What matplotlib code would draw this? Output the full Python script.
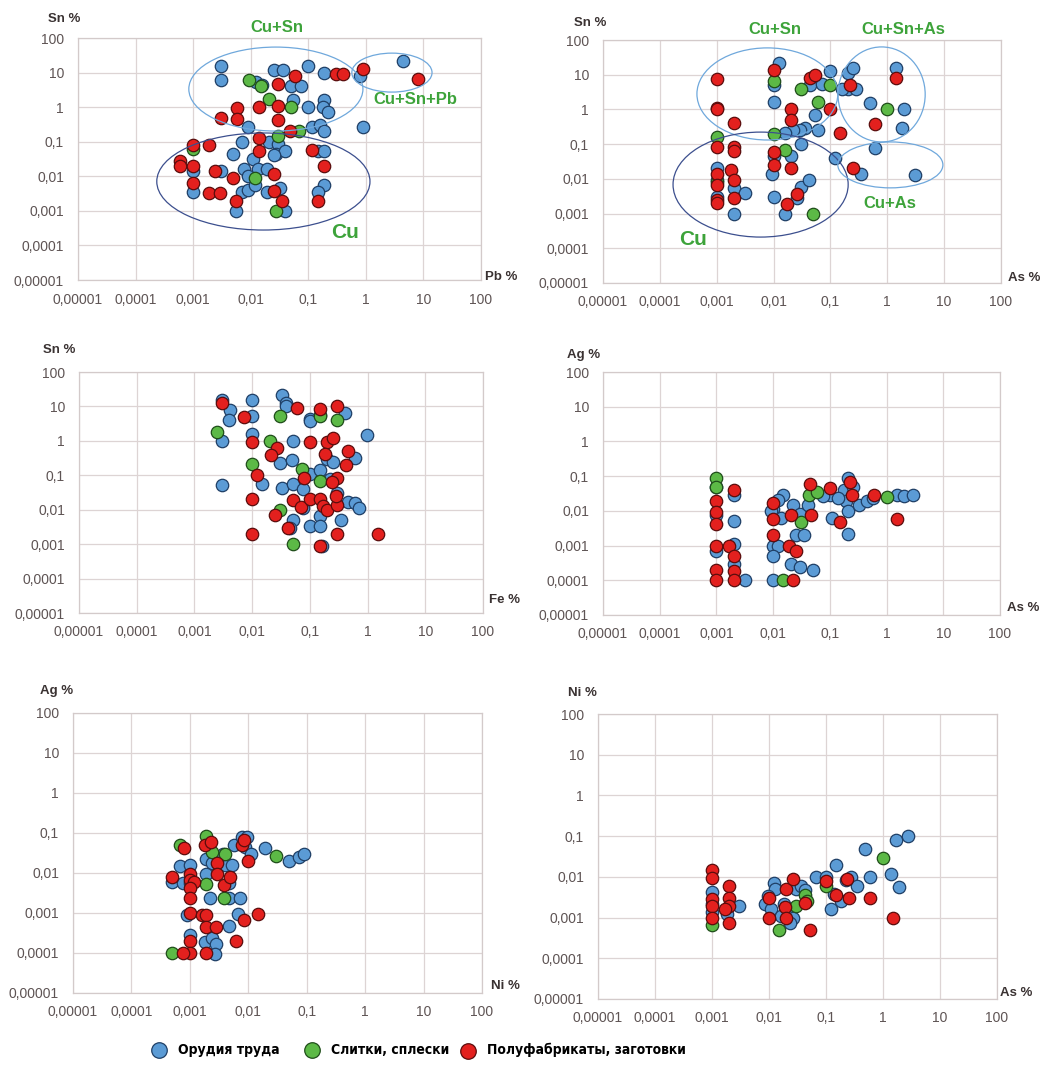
import matplotlib
matplotlib.use("Agg")
import matplotlib.pyplot as plt
from matplotlib import font_manager
from matplotlib.patches import Ellipse
from matplotlib.ticker import FixedLocator, NullLocator

plt.rcParams['font.family'] = ['Liberation Sans', 'DejaVu Sans']

# ---------------- data ----------------
TICKS = [1e-5, 1e-4, 1e-3, 1e-2, 1e-1, 1, 10, 100]
TICK_LABELS = ['0,00001', '0,0001', '0,001', '0,01', '0,1', '1', '10', '100']
GROUPS = ['Орудия труда', 'Слитки, сплески', 'Полуфабрикаты, заготовки']

# Panel 1: Pb % (x) vs Sn % (y)
TOOLS_PB_SN = [(0.003, 16), (0.003, 6), (0.025, 12), (0.037, 12), (0.1, 16), (0.19, 10), (0.8, 8), (4.5, 21),
               (0.0125, 5.3), (0.016, 4.5), (0.051, 4.2), (0.075, 4.2), (0.055, 1.6), (0.1, 1.0), (0.19, 1.6),
               (0.18, 1.0), (0.22, 0.72), (0.009, 0.26), (0.115, 0.26), (0.16, 0.3), (0.19, 0.21), (0.9, 0.26),
               (0.007, 0.1), (0.021, 0.1), (0.03, 0.085), (0.028, 0.045), (0.039, 0.055), (0.005, 0.043),
               (0.011, 0.031), (0.15, 0.055), (0.19, 0.055), (0.0075, 0.016), (0.0135, 0.016), (0.019, 0.016),
               (0.009, 0.01), (0.001, 0.014), (0.0031, 0.014), (0.001, 0.0034), (0.007, 0.0034), (0.009, 0.004),
               (0.012, 0.0055), (0.019, 0.0034), (0.032, 0.0047), (0.0056, 0.001), (0.039, 0.001), (0.19, 0.0057),
               (0.15, 0.0034), (0.025, 0.04)]
INGOTS_PB_SN = [(0.0095, 6), (0.015, 4.2), (0.021, 1.7), (0.051, 1.0), (0.07, 0.2), (0.03, 0.15), (0.012, 0.009),
                (0.028, 0.001), (0.001, 0.06)]
BLANKS_PB_SN = [(0.058, 8), (0.03, 4.7), (0.3, 9), (0.4, 9), (0.9, 13), (8, 6.5), (0.0058, 0.95), (0.014, 1.0),
                (0.03, 1.1), (0.003, 0.5), (0.0058, 0.45), (0.03, 0.42), (0.048, 0.21), (0.014, 0.13), (0.001, 0.08),
                (0.0019, 0.08), (0.014, 0.055), (0.115, 0.057), (0.0006, 0.028), (0.0006, 0.02), (0.001, 0.02),
                (0.0024, 0.014), (0.005, 0.009), (0.025, 0.012), (0.001, 0.0065), (0.0019, 0.0033), (0.0029, 0.0033),
                (0.025, 0.0038), (0.0056, 0.0019), (0.035, 0.0019), (0.15, 0.0019), (0.19, 0.02)]

# Panel 2: As % (x) vs Sn % (y)
TOOLS_AS_SN = [(0.0125, 22), (0.01, 4.9), (0.01, 1.6), (0.044, 5), (0.07, 5.5), (0.1, 12.5), (0.2, 11), (0.25, 16),
               (0.2, 3.9), (0.28, 3.9), (0.16, 3.9), (1.45, 16), (0.5, 1.5), (2.0, 1.0), (1.8, 0.29), (0.6, 0.08),
               (3.1, 0.013), (0.35, 0.014), (0.12, 0.04), (0.054, 0.71), (0.06, 0.26), (0.035, 0.29), (0.029, 0.26),
               (0.022, 0.26), (0.016, 0.21), (0.03, 0.1), (0.01, 0.046), (0.02, 0.047), (0.0094, 0.014), (0.03, 0.006),
               (0.042, 0.0095), (0.026, 0.0028), (0.01, 0.003), (0.016, 0.001), (0.001, 0.02), (0.001, 0.0095),
               (0.002, 0.0055), (0.0031, 0.004), (0.002, 0.001), (0.001, 0.0031)]
INGOTS_AS_SN = [(0.01, 6.5), (0.03, 3.9), (0.06, 1.6), (0.1, 4.9), (1.0, 1.0), (0.01, 0.19), (0.016, 0.07),
                (0.001, 0.16), (0.001, 0.008), (0.05, 0.001)]
BLANKS_AS_SN = [(0.001, 7.3), (0.001, 1.1), (0.001, 1.0), (0.002, 0.41), (0.01, 13.5), (0.044, 8.2), (0.054, 10),
                (0.22, 4.9), (1.45, 8), (0.02, 1.0), (0.02, 0.5), (0.1, 1.0), (0.15, 0.21), (0.6, 0.38), (0.001, 0.085),
                (0.002, 0.085), (0.002, 0.062), (0.01, 0.058), (0.01, 0.025), (0.02, 0.02), (0.25, 0.02), (0.001, 0.014),
                (0.0018, 0.018), (0.002, 0.0095), (0.001, 0.0068), (0.001, 0.0025), (0.001, 0.002), (0.002, 0.0028),
                (0.026, 0.0037), (0.017, 0.0019)]

# Panel 3: Fe % (x) vs Sn % (y)
TOOLS_FE_SN = [(0.003, 15), (0.0041, 7.8), (0.0039, 4), (0.01, 15.5), (0.01, 5.1), (0.01, 1.6), (0.003, 1.0),
               (0.003, 0.051), (0.033, 22), (0.038, 13), (0.039, 10), (0.1, 4.2), (0.1, 3.8), (0.15, 5.5), (0.4, 6.5),
               (0.98, 1.5), (0.051, 1.0), (0.03, 0.22), (0.05, 0.27), (0.015, 0.055), (0.033, 0.044), (0.051, 0.054),
               (0.075, 0.04), (0.1, 0.11), (0.15, 0.14), (0.2, 0.3), (0.25, 0.25), (0.6, 0.32), (0.22, 0.08),
               (0.3, 0.03), (0.45, 0.017), (0.6, 0.016), (0.7, 0.011), (0.075, 0.011), (0.15, 0.0066),
               (0.052, 0.0051), (0.1, 0.0034), (0.15, 0.0034), (0.35, 0.0051), (0.046, 0.003), (0.16, 0.0009)]
INGOTS_FE_SN = [(0.0025, 1.8), (0.03, 5.1), (0.3, 4), (0.02, 0.97), (0.01, 0.21), (0.072, 0.15), (0.15, 0.07),
                (0.03, 0.0097), (0.051, 0.001), (0.15, 5.1)]
BLANKS_FE_SN = [(0.003, 13), (0.0071, 5), (0.01, 0.95), (0.012, 0.1), (0.01, 0.02), (0.01, 0.002), (0.06, 9),
                (0.15, 8.5), (0.3, 10), (0.1, 0.95), (0.2, 0.95), (0.25, 1.2), (0.027, 0.6), (0.021, 0.4),
                (0.18, 0.42), (0.45, 0.5), (0.42, 0.2), (0.08, 0.085), (0.3, 0.085), (0.24, 0.063), (0.052, 0.019),
                (0.07, 0.012), (0.1, 0.02), (0.15, 0.02), (0.17, 0.013), (0.2, 0.0095), (0.3, 0.014), (0.28, 0.025),
                (0.025, 0.007), (0.042, 0.0029), (0.3, 0.002), (1.5, 0.002), (0.15, 0.0009)]

# Panel 4: As % (x) vs Ag % (y)
TOOLS_AS_AG = [(0.001, 0.05), (0.002, 0.028), (0.002, 0.005), (0.001, 0.0075), (0.002, 0.0011), (0.001, 0.0007),
               (0.002, 0.0003), (0.0032, 0.0001), (0.01, 0.011), (0.009, 0.01), (0.015, 0.028), (0.012, 0.02),
               (0.014, 0.0063), (0.022, 0.015), (0.03, 0.008), (0.025, 0.002), (0.035, 0.002), (0.01, 0.001),
               (0.012, 0.001), (0.01, 0.0005), (0.021, 0.0003), (0.03, 0.00024), (0.05, 0.0002), (0.01, 0.0001),
               (0.042, 0.015), (0.1, 0.028), (0.11, 0.0063), (0.21, 0.09), (0.18, 0.04), (0.19, 0.019), (0.21, 0.01),
               (0.21, 0.0021), (0.33, 0.015), (0.46, 0.019), (0.58, 0.024), (1.5, 0.028), (2.0, 0.026), (2.9, 0.028),
               (0.075, 0.026), (0.14, 0.023), (0.26, 0.05)]
INGOTS_AS_AG = [(0.001, 0.09), (0.001, 0.05), (0.015, 0.0001), (0.031, 0.0047), (0.043, 0.028), (0.06, 0.035),
                (1.0, 0.025)]
BLANKS_AS_AG = [(0.001, 0.019), (0.001, 0.009), (0.001, 0.0041), (0.002, 0.04), (0.001, 0.001), (0.0017, 0.001),
                (0.002, 0.0005), (0.001, 0.0002), (0.002, 0.00019), (0.001, 0.0001), (0.002, 0.0001), (0.01, 0.017),
                (0.01, 0.0058), (0.01, 0.002), (0.021, 0.0075), (0.019, 0.00095), (0.025, 0.0007), (0.022, 0.0001),
                (0.044, 0.058), (0.046, 0.0075), (0.1, 0.046), (0.15, 0.0047), (0.23, 0.07), (0.25, 0.028),
                (0.6, 0.028), (1.5, 0.0059)]

# Panel 5: Ni % (x) vs Ag % (y)
TOOLS_NI_AG = [(0.00067, 0.015), (0.001, 0.016), (0.0005, 0.006), (0.00077, 0.0055), (0.001, 0.0055),
               (0.0009, 0.00087), (0.001, 0.00028), (0.0019, 0.023), (0.0024, 0.018), (0.0019, 0.0097),
               (0.0022, 0.0024), (0.0018, 0.00019), (0.0024, 0.00024), (0.0028, 0.00017), (0.0027, 0.000095),
               (0.0047, 0.0024), (0.0071, 0.0024), (0.0067, 0.00097), (0.0047, 0.00046), (0.004, 0.016),
               (0.0053, 0.016), (0.0047, 0.0055), (0.0056, 0.049), (0.0077, 0.08), (0.0087, 0.045), (0.011, 0.03),
               (0.0095, 0.08), (0.019, 0.042), (0.049, 0.02), (0.075, 0.025), (0.091, 0.03), (0.0037, 0.03)]
INGOTS_NI_AG = [(0.00067, 0.05), (0.0019, 0.085), (0.0024, 0.034), (0.0019, 0.0052), (0.0039, 0.0024),
                (0.004, 0.03), (0.03, 0.026), (0.0005, 0.0001)]
BLANKS_NI_AG = [(0.0005, 0.0078), (0.0008, 0.042), (0.001, 0.0096), (0.001, 0.0067), (0.0012, 0.006),
                (0.001, 0.0042), (0.001, 0.0024), (0.001, 0.001), (0.001, 0.0002), (0.001, 0.0001), (0.00075, 0.0001),
                (0.0016, 0.00089), (0.0019, 0.00089), (0.0019, 0.00045), (0.0028, 0.00045), (0.0019, 0.0001),
                (0.0018, 0.05), (0.0023, 0.06), (0.0029, 0.018), (0.0029, 0.0095), (0.0039, 0.005), (0.0049, 0.0078),
                (0.0077, 0.05), (0.0083, 0.068), (0.0099, 0.02), (0.0083, 0.00068), (0.0148, 0.00092),
                (0.0061, 0.0002)]

# Panel 6: As % (x) vs Ni % (y)
TOOLS_AS_NI = [(0.001, 0.0042), (0.001, 0.0022), (0.001, 0.0014), (0.0018, 0.0012), (0.003, 0.0019),
               (0.012, 0.0072), (0.013, 0.005), (0.0095, 0.0034), (0.0085, 0.0022), (0.011, 0.0016), (0.018, 0.0022),
               (0.02, 0.0013), (0.016, 0.0011), (0.026, 0.001), (0.023, 0.00074), (0.03, 0.005), (0.036, 0.006),
               (0.043, 0.0047), (0.067, 0.01), (0.1, 0.01), (0.15, 0.02), (0.14, 0.0039), (0.12, 0.0016),
               (0.18, 0.0025), (0.27, 0.01), (0.35, 0.006), (0.48, 0.048), (0.6, 0.01), (1.4, 0.012), (1.9, 0.0057),
               (1.7, 0.079), (2.8, 0.1), (0.22, 0.0085)]
INGOTS_AS_NI = [(0.001, 0.00067), (0.015, 0.00049), (0.03, 0.0019), (0.043, 0.0035), (0.047, 0.0025),
                (0.1, 0.0058), (1.0, 0.029)]
BLANKS_AS_NI = [(0.001, 0.015), (0.001, 0.0093), (0.001, 0.0029), (0.001, 0.0019), (0.001, 0.001), (0.002, 0.0058),
                (0.002, 0.003), (0.002, 0.0019), (0.0017, 0.0016), (0.002, 0.00074), (0.01, 0.0031), (0.01, 0.001),
                (0.019, 0.0018), (0.02, 0.00095), (0.02, 0.0049), (0.026, 0.0091), (0.043, 0.0023), (0.052, 0.00049),
                (0.1, 0.0078), (0.15, 0.0036), (0.23, 0.0091), (0.25, 0.003), (0.59, 0.003), (1.5, 0.001)]

# ---------------- styling ----------------
FILLS = ['#5b9bd5', '#5cb946', '#e3201e']
EDGES = ['#1f3f66', '#1f4d1a', '#5a0d0d']
GRID_C = '#ddd4d4'
TICK_C = '#5e5454'
LABEL_C = '#3a3232'
ANN_C = '#3da33a'
LIGHT_ELL = '#6fa8dc'
DARK_ELL = '#3c4f8e'

fig = plt.figure(figsize=(10.51, 10.65), dpi=100)
W, H = 1051.0, 1065.0


def rect(left, right, top, bottom):
    return [left / W, 1 - bottom / H, (right - left) / W, (bottom - top) / H]


panels = [
    dict(r=rect(78, 481, 38, 280), data=(TOOLS_PB_SN, INGOTS_PB_SN, BLANKS_PB_SN),
         xl='Pb %', yl='Sn %', xlp=(1.01, 0.012), ylp=(-0.035, 1.078)),
    dict(r=rect(603, 1001, 40, 283), data=(TOOLS_AS_SN, INGOTS_AS_SN, BLANKS_AS_SN),
         xl='As %', yl='Sn %', xlp=(1.018, 0.02), ylp=(-0.033, 1.07)),
    dict(r=rect(79, 483, 372, 613), data=(TOOLS_FE_SN, INGOTS_FE_SN, BLANKS_FE_SN),
         xl='Fe %', yl='Sn %', xlp=(1.015, 0.054), ylp=(-0.05, 1.091)),
    dict(r=rect(603, 1000, 372, 615), data=(TOOLS_AS_AG, INGOTS_AS_AG, BLANKS_AS_AG),
         xl='As %', yl='Ag %', xlp=(1.018, 0.03), ylp=(-0.05, 1.07)),
    dict(r=rect(73, 482, 713, 993), data=(TOOLS_NI_AG, INGOTS_NI_AG, BLANKS_NI_AG),
         xl='Ni %', yl='Ag %', xlp=(1.022, 0.025), ylp=(-0.04, 1.079)),
    dict(r=rect(598, 997, 714, 999), data=(TOOLS_AS_NI, INGOTS_AS_NI, BLANKS_AS_NI),
         xl='As %', yl='Ni %', xlp=(1.008, 0.02), ylp=(-0.038, 1.074)),
]

axes = []
handles = []
for i, p in enumerate(panels):
    ax = fig.add_axes(p['r'])
    axes.append(ax)
    ax.set_xscale('log')
    ax.set_yscale('log')
    ax.set_xlim(TICKS[0], TICKS[-1])
    ax.set_ylim(TICKS[0], TICKS[-1])
    ax.xaxis.set_major_locator(FixedLocator(TICKS))
    ax.yaxis.set_major_locator(FixedLocator(TICKS))
    ax.xaxis.set_minor_locator(NullLocator())
    ax.yaxis.set_minor_locator(NullLocator())
    ax.set_xticklabels(TICK_LABELS)
    ax.set_yticklabels(TICK_LABELS)
    ax.tick_params(length=0, labelsize=10, labelcolor=TICK_C)
    ax.tick_params(axis='x', pad=9)
    ax.tick_params(axis='y', pad=10)
    ax.grid(True, color=GRID_C, lw=0.9)
    ax.set_axisbelow(True)
    for s in ax.spines.values():
        s.set_color('#d3caca')
        s.set_linewidth(0.9)
    for g, (pts, fc, ec) in enumerate(zip(p['data'], FILLS, EDGES)):
        xs = [a for a, b in pts]
        ys = [b for a, b in pts]
        h = ax.scatter(xs, ys, s=80, c=fc, edgecolors=ec, linewidths=0.9, zorder=3 + g, label=GROUPS[g])
        if i == 0:
            handles.append(h)
    ax.text(p['xlp'][0], p['xlp'][1], p['xl'], transform=ax.transAxes, ha='left', va='center',
            fontsize=9.5, fontweight='bold', color=LABEL_C, clip_on=False)
    ax.text(p['ylp'][0], p['ylp'][1], p['yl'], transform=ax.transAxes, ha='center', va='center',
            fontsize=9.5, fontweight='bold', color=LABEL_C, clip_on=False)

# group ellipses and labels (panel 1)
ax = axes[0]
ax.add_patch(Ellipse((0.491, 0.789), 0.432, 0.347, transform=ax.transAxes, fill=False, ec=LIGHT_ELL, lw=0.9, zorder=6))
ax.add_patch(Ellipse((0.460, 0.407), 0.529, 0.401, transform=ax.transAxes, fill=False, ec=DARK_ELL, lw=0.9, zorder=6))
ax.add_patch(Ellipse((0.779, 0.857), 0.199, 0.161, transform=ax.transAxes, fill=False, ec=LIGHT_ELL, lw=0.9, zorder=6))
ax.text(0.494, 1.045, 'Cu+Sn', transform=ax.transAxes, ha='center', va='center', fontsize=12, fontweight='bold', color=ANN_C)
ax.text(0.836, 0.744, 'Cu+Sn+Pb', transform=ax.transAxes, ha='center', va='center', fontsize=12, fontweight='bold', color=ANN_C, zorder=7)
ax.text(0.663, 0.198, 'Cu', transform=ax.transAxes, ha='center', va='center', fontsize=15, fontweight='bold', color=ANN_C, zorder=7)

# panel 2
ax = axes[1]
ax.add_patch(Ellipse((0.413, 0.778), 0.354, 0.379, transform=ax.transAxes, fill=False, ec=LIGHT_ELL, lw=0.9, zorder=6))
ax.add_patch(Ellipse((0.396, 0.405), 0.440, 0.432, transform=ax.transAxes, fill=False, ec=DARK_ELL, lw=0.9, zorder=6))
ax.add_patch(Ellipse((0.700, 0.776), 0.219, 0.391, transform=ax.transAxes, fill=False, ec=LIGHT_ELL, lw=0.9, zorder=6))
ax.add_patch(Ellipse((0.722, 0.486), 0.264, 0.189, transform=ax.transAxes, fill=False, ec=LIGHT_ELL, lw=0.9, zorder=6))
ax.text(0.432, 1.045, 'Cu+Sn', transform=ax.transAxes, ha='center', va='center', fontsize=12, fontweight='bold', color=ANN_C)
ax.text(0.754, 1.045, 'Cu+Sn+As', transform=ax.transAxes, ha='center', va='center', fontsize=12, fontweight='bold', color=ANN_C)
ax.text(0.721, 0.329, 'Cu+As', transform=ax.transAxes, ha='center', va='center', fontsize=12, fontweight='bold', color=ANN_C, zorder=7)
ax.text(0.226, 0.177, 'Cu', transform=ax.transAxes, ha='center', va='center', fontsize=15, fontweight='bold', color=ANN_C, zorder=7)


# ---------------- legend (condensed bold font if one is installed) ----------------
def legend_font():
    files = [f.fname for f in font_manager.fontManager.ttflist]
    for key in ('liberationsansnarrow-bold.', 'dejavusanscondensed-bold.'):
        for fn in files:
            if fn.lower().replace(' ', '').split('/')[-1].startswith(key):
                return font_manager.FontProperties(fname=fn, size=10)
    return font_manager.FontProperties(family='Liberation Sans', weight='bold', size=9.5)


lprop = legend_font()
# left edges of the legend entries (pixels) -> marker centres at 159, 312, 468
for h, lab, xpix in zip(handles, GROUPS, (152, 305, 461)):
    fig.legend([h], [lab], loc='center left', bbox_to_anchor=(xpix / W, 1 - 1050 / H), frameon=False,
               markerscale=1.25, handlelength=1.05, handletextpad=0.8, borderpad=0, borderaxespad=0,
               prop=lprop)

fig.savefig('out.png', dpi=100, facecolor='white')
